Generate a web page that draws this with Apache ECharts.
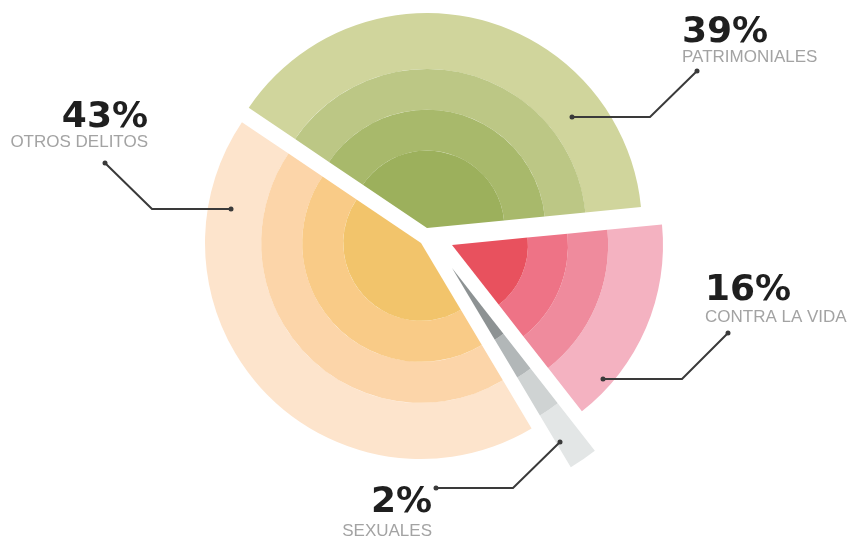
<!DOCTYPE html>
<html>
<head>
<meta charset="utf-8">
<script src="https://cdn.jsdelivr.net/npm/echarts@6/dist/echarts.min.js"></script>
<style>
html,body{margin:0;padding:0;background:#fff;}
#chart{width:855px;height:538px;}
</style>
</head>
<body>
<div id="chart"></div>
<script>
// ---- data ----
var categories = ['PATRIMONIALES', 'CONTRA LA VIDA', 'SEXUALES', 'OTROS DELITOS'];
var values = [39, 16, 2, 43];

// ---- style / layout ----
var shades = [
  ['#d0d59c', '#bcc785', '#a8b96b', '#9cb05c'],
  ['#f4b2c1', '#ef8b9d', '#ee7386', '#e8515e'],
  ['#e3e6e6', '#cfd3d3', '#b2b7b8', '#8d9293'],
  ['#fde4cc', '#fcd5a9', '#f9cb87', '#f2c46b']
];
var centers = [[427, 228], [452, 245], [452, 268], [421, 243]];
var outerR = [215, 211, 232, 216];
var ringFrac = [1, 0.74, 0.55, 0.36, 0];
var startAngle = 146;

var series = [];
categories.forEach(function (cat, i) {
  for (var j = 0; j < 4; j++) {
    series.push({
      type: 'pie',
      silent: true,
      animation: false,
      z: 2,
      center: centers[i],
      radius: [outerR[i] * ringFrac[j + 1], outerR[i] * ringFrac[j]],
      startAngle: startAngle,
      clockwise: true,
      label: { show: false },
      labelLine: { show: false },
      itemStyle: { borderWidth: 0 },
      emphasis: { disabled: true },
      data: values.map(function (v, k) {
        return {
          value: v,
          name: categories[k],
          itemStyle: { color: k === i ? shades[i][j] : 'rgba(0,0,0,0)' }
        };
      })
    });
  }
});

// label annotation layout (index matches categories)
var labelPos = [
  { x: 682, pctY: 33, subY: 57, align: 'left' },
  { x: 705, pctY: 291, subY: 317, align: 'left' },
  { x: 432, pctY: 503, subY: 531, align: 'right' },
  { x: 148, pctY: 118, subY: 142, align: 'right' }
];
var leaders = [
  [[572, 117], [650, 117], [697, 71]],
  [[603, 379], [682, 379], [728, 333]],
  [[560, 442], [513, 488], [436, 488]],
  [[231, 209], [152, 209], [105, 163]]
];

var graphics = [];
categories.forEach(function (cat, i) {
  var p = labelPos[i];
  graphics.push({
    type: 'text', silent: true, z: 100,
    x: p.x, y: p.pctY,
    style: {
      text: values[i] + '%',
      font: 'bold 36px "DejaVu Sans"',
      fill: '#1f1f1f',
      textAlign: p.align,
      textVerticalAlign: 'middle'
    }
  });
  graphics.push({
    type: 'text', silent: true, z: 100,
    x: p.x, y: p.subY,
    style: {
      text: cat,
      font: '17px "Liberation Sans"',
      fill: '#a3a3a3',
      textAlign: p.align,
      textVerticalAlign: 'middle'
    }
  });
  var pts = leaders[i];
  graphics.push({
    type: 'polyline', silent: true, z: 100,
    shape: { points: pts },
    style: { stroke: '#3a3a3a', lineWidth: 2, fill: null }
  });
  [pts[0], pts[pts.length - 1]].forEach(function (pt) {
    graphics.push({
      type: 'circle', silent: true, z: 100,
      shape: { cx: pt[0], cy: pt[1], r: 2.5 },
      style: { fill: '#3a3a3a' }
    });
  });
});

var chart = echarts.init(document.getElementById('chart'), null, { renderer: 'canvas' });
chart.setOption({
  backgroundColor: '#ffffff',
  animation: false,
  series: series,
  graphic: { elements: graphics }
});
</script>
</body>
</html>
